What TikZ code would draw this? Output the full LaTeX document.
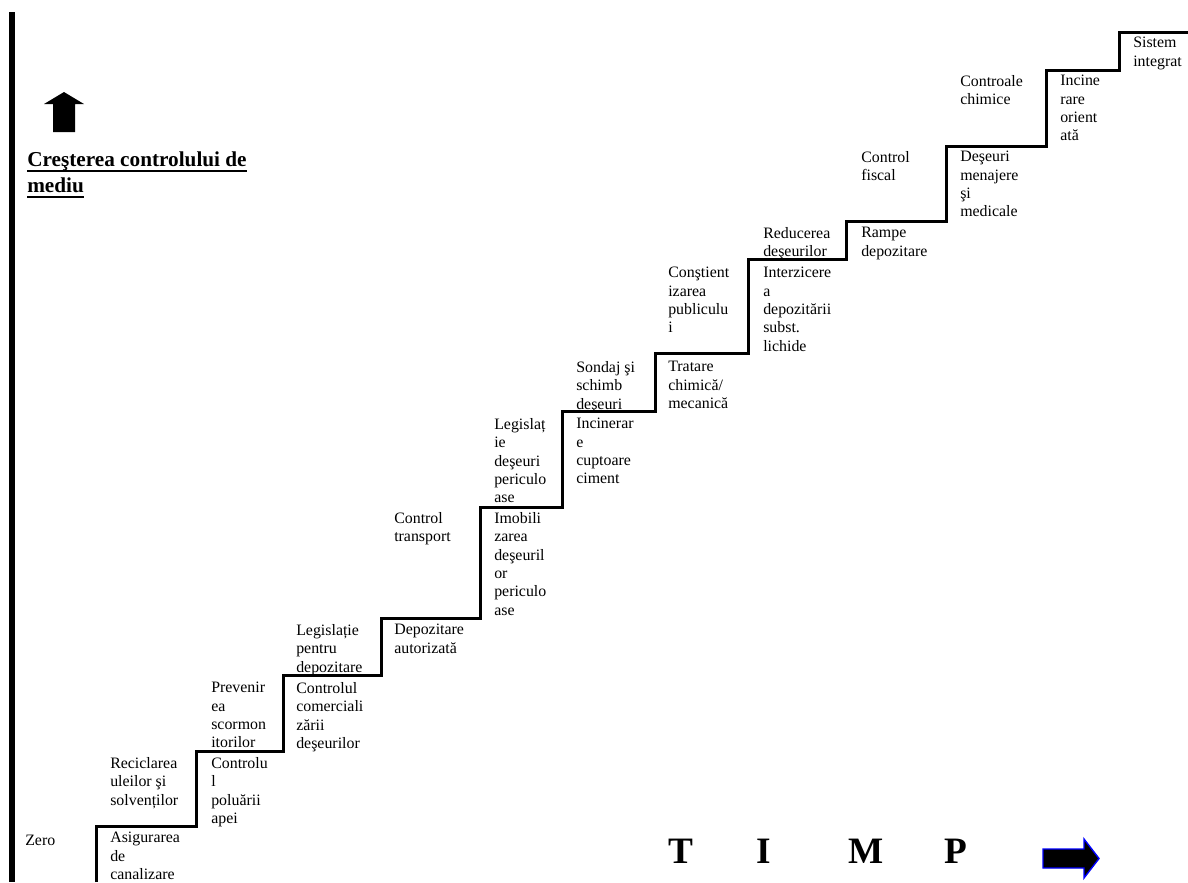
\documentclass[tikz,border=0pt]{standalone}
\usepackage{fontspec}
\setmainfont{Liberation Serif}
\newcommand{\thickul}[1]{\sbox0{#1}\rlap{\rule[-4.2pt]{\wd0}{1.4pt}}\usebox0}

\begin{document}
\begin{tikzpicture}[
  x=0.025cm, y=-0.025cm,
  stair/.style={line width=0.075cm, line join=miter},
  lbl/.style={anchor=north west, inner sep=0pt, align=left, yshift=-0.05cm,
              font=\fontsize{11.3}{13.05}\selectfont,
              execute at begin node=\strut},
  hdr/.style={anchor=north west, inner sep=0pt, align=left,
              font=\fontsize{15.1}{18.5}\selectfont\bfseries,
              execute at begin node=\strut},
  timp/.style={anchor=base, inner sep=0pt,
               font=\fontsize{26.5}{30}\selectfont\bfseries},
  blockarr/.style={fill=black, draw=blue, line width=0.035cm}
]
\useasboundingbox (0,0) rectangle (1188,882);

% axis bar and arrow
\fill (9,12) rectangle (15,882);
\fill (64,92) -- (84,104) -- (75,104) -- (75,132) -- (53,132) -- (53,104) -- (44,104) -- cycle;
\node[hdr] (title) at (27,151) {\thickul{Creşterea controlului de}\\\thickul{mediu}};

% staircase
\draw[stair] (96,882) |- (196,826) |- (283,751) |- (381,675) |- (480,618)
  |- (562,507) |- (655,411) |- (748,353) |- (846,259) |- (946,221)
  |- (1046,146) |- (1119,70) |- (1188,32);

% steps
\node[lbl] (zero) at (25,830) {Zero};
\node[lbl] (asig) at (110,830) {Asigurarea\\de\\canalizare};
\node[lbl] (recic) at (110,755) {Reciclarea\\uleilor şi\\solvenților};
\node[lbl] (polu) at (211,755) {Controlu\\l\\poluării\\apei};
\node[lbl] (prev) at (211,680) {Prevenir\\ea\\scormon\\itorilor};
\node[lbl] (comerc) at (296,680) {Controlul\\comerciali\\zării\\deşeurilor};
\node[lbl] (legdep) at (296,622) {Legislație\\pentru\\depozitare};
\node[lbl] (depaut) at (394,622) {Depozitare\\autorizată};
\node[lbl] (transp) at (394,510) {Control\\transport};
\node[lbl] (imob) at (494,510) {Imobili\\zarea\\deşeuril\\or\\periculo\\ase};
\node[lbl] (legper) at (494,416) {Legislaț\\ie\\deşeuri\\periculo\\ase};
\node[lbl] (incim) at (576,416) {Incinerar\\e\\cuptoare\\ciment};
\node[lbl] (sondaj) at (576,359) {Sondaj şi\\schimb\\deşeuri};
\node[lbl] (tratare) at (668,359) {Tratare\\chimică/\\mecanică};
\node[lbl] (constient) at (668,265) {Conştient\\izarea\\publiculu\\i};
\node[lbl] (interz) at (763,265) {Interzicere\\a\\depozitării\\subst.\\lichide};
\node[lbl] (reduc) at (763,225) {Reducerea\\deşeurilor};
\node[lbl] (rampe) at (861,225) {Rampe\\depozitare};
\node[lbl] (fiscal) at (861,149) {Control\\fiscal};
\node[lbl] (menaj) at (960,149) {Deşeuri\\menajere\\şi\\medicale};
\node[lbl] (chimice) at (960,73) {Controale\\chimice};
\node[lbl] (incor) at (1060,73) {Incine\\rare\\orient\\ată};
\node[lbl] (sistem) at (1133,35) {Sistem\\integrat};

% time axis
\foreach \ltr/\xx in {T/681, I/764, M/866, P/956}
  \node[timp] (timp-\ltr) at (\xx,863) {\ltr};
\filldraw[blockarr] (1043,849) -- (1084,849) -- (1084,839) -- (1099,858.5)
  -- (1084,878) -- (1084,868) -- (1043,868) -- cycle;
\end{tikzpicture}
\end{document}
